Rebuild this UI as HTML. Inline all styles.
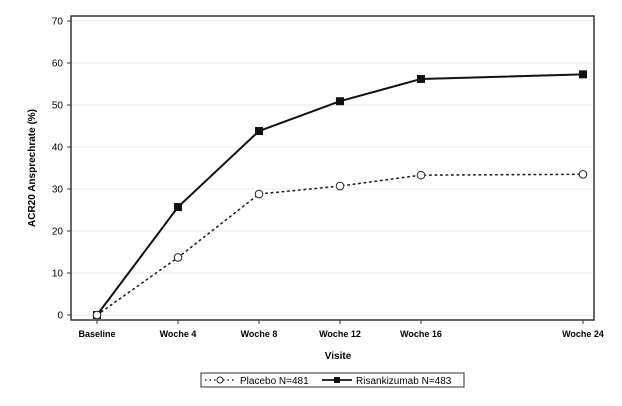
<!DOCTYPE html>
<html><head><meta charset="utf-8"><style>
body{margin:0;background:#fff;font-family:"Liberation Sans",Arial,sans-serif}
svg text{font-family:"Liberation Sans",Arial,sans-serif}
</style></head><body>
<svg id="chart" width="622" height="401" viewBox="0 0 622 401" xmlns="http://www.w3.org/2000/svg">
<rect x="71" y="16" width="523" height="304" fill="#fff" stroke="#333" stroke-width="1.5"/>
<g id="grid"></g><g id="yticks"></g><g id="xticks"></g><g id="series"></g>
<text x="35" y="168" transform="rotate(-90 35 168)" text-anchor="middle" font-size="10" font-weight="bold">ACR20 Ansprechrate (%)</text>
<text x="338" y="359" text-anchor="middle" font-size="10" font-weight="bold">Visite</text>
<g>
<rect x="201" y="373" width="263" height="14" fill="#fff" stroke="#333" stroke-width="1"/>
<g>
<line x1="205" y1="380" x2="235" y2="380" stroke="#222" stroke-width="1.5" stroke-dasharray="1.5 3"/>
<circle cx="220" cy="380" r="3" fill="#fff" stroke="#222"/>
<text x="240" y="384" font-size="10">Placebo N=481</text></g>
<g>
<line x1="322" y1="380" x2="352" y2="380" stroke="#111" stroke-width="1.8"/>
<rect x="334" y="377" width="6" height="6" fill="#111"/>
<text x="356" y="384" font-size="10">Risankizumab N=483</text></g>
</g>
</svg>
<script>
const categories=["Baseline","Woche 4","Woche 8","Woche 12","Woche 16","Woche 24"];
const weeks=[0,4,8,12,16,24];
const placebo=[0,13.7,28.8,30.7,33.3,33.5];
const risankizumab=[0,25.7,43.8,50.9,56.2,57.3];
const yTicks=[0,10,20,30,40,50,60,70];
const NS="http://www.w3.org/2000/svg";
const xs=w=>97+w*20.25;
const ys=v=>315-v*4.2;
function mk(tag,attrs,parent){const e=document.createElementNS(NS,tag);for(const k in attrs)e.setAttribute(k,attrs[k]);parent.appendChild(e);return e;}
const grid=document.getElementById('grid'),yt=document.getElementById('yticks'),xt=document.getElementById('xticks'),se=document.getElementById('series');
yTicks.forEach(v=>{
 const g=mk('line',{x1:72,x2:593,y1:ys(v),y2:ys(v),stroke:'#eee','stroke-width':1},grid);
 
 
 const t=mk('line',{x1:67,x2:71,y1:ys(v),y2:ys(v),stroke:'#333'},yt);
 
 
 const l=mk('text',{x:63,y:ys(v)+3.5,'text-anchor':'end','font-size':10},yt);l.textContent=v;
 
 
});
categories.forEach((c,i)=>{
 const t=mk('line',{x1:xs(weeks[i]),x2:xs(weeks[i]),y1:320,y2:324,stroke:'#333'},xt);
 
 
 const l=mk('text',{x:xs(weeks[i]),y:337,'text-anchor':'middle','font-size':9,'font-weight':'bold'},xt);l.textContent=c;
 
 
});
const pp=weeks.map((w,i)=>xs(w)+','+ys(placebo[i])).join(' ');
const pl=mk('polyline',{points:pp,fill:'none',stroke:'#222','stroke-width':1.6,'stroke-dasharray':'1.5 4','stroke-linecap':'round'},se);


const rp=weeks.map((w,i)=>xs(w)+','+ys(risankizumab[i])).join(' ');
const rl=mk('polyline',{points:rp,fill:'none',stroke:'#111','stroke-width':2},se);


weeks.forEach((w,i)=>{
 const r=mk('rect',{x:xs(w)-4,y:ys(risankizumab[i])-4,width:8,height:8,fill:'#111'},se);
 
 
});
weeks.forEach((w,i)=>{
 const c=mk('circle',{cx:xs(w),cy:ys(placebo[i]),r:3.8,fill:'#fff',stroke:'#222','stroke-width':1},se);
 
 
});
</script>
</body></html>
